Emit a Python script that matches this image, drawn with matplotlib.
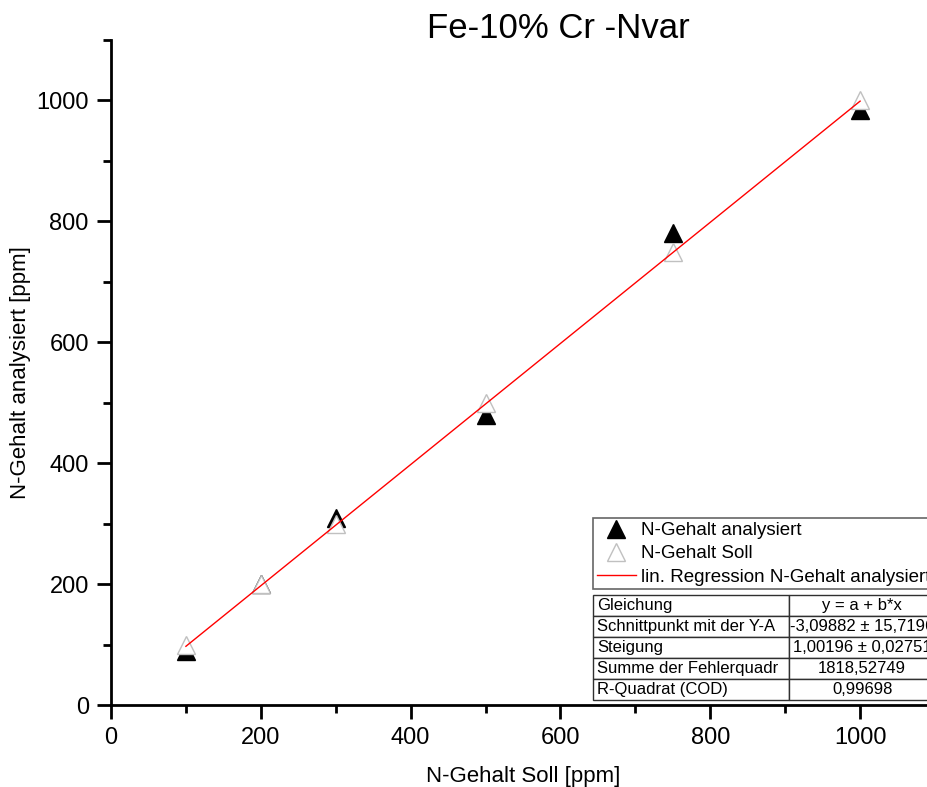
import matplotlib
matplotlib.use("Agg")
import matplotlib.pyplot as plt
from matplotlib.ticker import MultipleLocator
import numpy as np

plt.rcParams['font.family'] = ['Liberation Sans', 'DejaVu Sans']

x_soll = [100, 200, 300, 500, 750, 1000]
y_analysiert = [90, 200, 310, 480, 780, 985]
y_soll = [100, 200, 300, 500, 750, 1000]
fit_a = -3.09882
fit_b = 1.00196
fit_x = [100, 1000]

table_rows = [
    ["Gleichung", "y = a + b*x"],
    ["Schnittpunkt mit der Y-A", "-3,09882 ± 15,7196"],
    ["Steigung", "1,00196 ± 0,02751"],
    ["Summe der Fehlerquadr", "1818,52749"],
    ["R-Quadrat (COD)", "0,99698"],
]

fig = plt.figure(figsize=(9.28, 7.87), dpi=100)
ax = fig.add_axes([111/928, 82/787, 824/928, 665/787])

ax.plot(x_soll, y_analysiert, linestyle='none', marker='^', markersize=13,
        color='black', markeredgecolor='black', label='N-Gehalt analysiert', zorder=3)
ax.plot(x_soll, y_soll, linestyle='none', marker='^', markersize=13,
        markerfacecolor='white', markeredgecolor='#c0c0c0', markeredgewidth=1.0,
        label='N-Gehalt Soll', zorder=4)
fx = np.array(fit_x, dtype=float)
ax.plot(fx, fit_a + fit_b * fx, color='red', linewidth=1.0,
        label='lin. Regression N-Gehalt analysiert', zorder=5)

ax.set_xlim(0, 1100)
ax.set_ylim(0, 1100)
ax.xaxis.set_minor_locator(MultipleLocator(100))
ax.yaxis.set_minor_locator(MultipleLocator(100))
ax.set_yticks([0, 200, 400, 600, 800, 1000])
ax.set_xticks([0, 200, 400, 600, 800, 1000])
ax.tick_params(which='major', direction='out', length=10, width=2, labelsize=17, pad=6)
ax.tick_params(which='minor', direction='out', length=6, width=2)
for s in ['top', 'right']:
    ax.spines[s].set_visible(False)
for s in ['left', 'bottom']:
    ax.spines[s].set_linewidth(2)

ax.set_xlabel('N-Gehalt Soll [ppm]', fontsize=16, labelpad=12)
ax.set_ylabel('N-Gehalt analysiert [ppm]', fontsize=16, labelpad=4)
fig.text(558/928, 1 - 28/787, 'Fe-10% Cr -Nvar', fontsize=25, ha='center', va='center')

leg = ax.legend(loc='lower left', bbox_to_anchor=(0.585, 0.174, 0.6, 0.109),
                mode='expand', fontsize=13.5, frameon=True, fancybox=False,
                borderpad=0.2, labelspacing=0.32, handlelength=2.1,
                handletextpad=0.25, borderaxespad=0)
leg.get_frame().set_edgecolor('#404040')
leg.get_frame().set_linewidth(1.2)

tbl = ax.table(cellText=table_rows, cellLoc='center',
               bbox=[0.585, 0.0075, 0.415, 0.1575], colWidths=[197, 146])
tbl.auto_set_font_size(False)
tbl.set_fontsize(12)
for (r, c), cell in tbl.get_celld().items():
    cell.set_edgecolor('#303030')
    cell.set_linewidth(1.0)
    if c == 0:
        cell._loc = 'left'
        cell.PAD = 0.02
        cell.get_text().set_horizontalalignment('left')
tbl.set_zorder(6)

fig.savefig('out.png', dpi=100)
